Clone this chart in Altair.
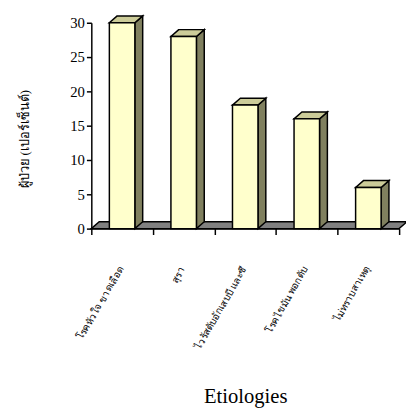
import altair as alt
import pandas as pd

# ---- data ----
categories = [
    "โรคหัวใจ ขาดเลือด",
    "สุรา",
    "ไวรัสตับอักเสบบี และซี",
    "โรคไขมัน พอกตับ",
    "ไม่ทราบสาเหตุ",
]
values = [30, 28, 18, 16, 6]
y_ticks = [0, 5, 10, 15, 20, 25, 30]
y_title = "ผู้ป่วย (เปอร์เซ็นต์)"
x_title = "Etiologies"

# ---- layout / style ----
W, H = 314, 210
N = len(categories)
YMAX = 30
px_x = N / W          # data units per pixel (x)
px_y = YMAX / H       # data units per pixel (y)
DX = 8 * px_x         # 3-D depth
DY = 7 * px_y
HALF = 13 * px_x      # half width of bar front face
FONT = "Liberation Serif"
FRONT, SIDE, TOP, FLOOR = "#FFFFCC", "#80805F", "#CCCC99", "#808080"
SW = 1.5

xs = alt.Scale(domain=[0, N], nice=False, zero=False)
ys = alt.Scale(domain=[0, YMAX], nice=False)

yaxis = alt.Axis(values=y_ticks, title=y_title, grid=False,
                 labelOverlap=False,
                 domainColor="black", domainWidth=SW,
                 tickColor="black", tickWidth=SW, tickSize=5,
                 labelFont=FONT, labelFontSize=15, labelColor="black",
                 labelPadding=2,
                 titleFont=FONT, titleFontSize=13, titleFontWeight="normal",
                 titleColor="black", titleAngle=-90,
                 titleX=-68, titleY=118, titleAlign="center",
                 titleBaseline="middle")
xaxis = alt.Axis(values=list(range(N + 1)), labels=False, grid=False,
                 title=x_title, domainColor="black", domainWidth=SW,
                 tickColor="black", tickWidth=SW, tickSize=6,
                 titleFont=FONT, titleFontSize=21, titleFontWeight="normal",
                 titleColor="black", titleX=W / 2, titleY=177,
                 titleAlign="center", titleBaseline="alphabetic")


def X(f):
    return alt.X(f, scale=xs, axis=xaxis)


def Y(f):
    return alt.Y(f, scale=ys, axis=yaxis)


front = pd.DataFrame({
    "cat": categories,
    "x1": [i + 0.5 - HALF for i in range(N)],
    "x2": [i + 0.5 + HALF for i in range(N)],
    "v": values,
    "z": [0] * N,
})

side_rows, top_rows = [], []
for i, v in enumerate(values):
    xr = i + 0.5 + HALF
    xl = i + 0.5 - HALF
    side_rows.append({"bar": i, "x": xr, "y": v, "y2": 0})
    side_rows.append({"bar": i, "x": xr + DX, "y": v + DY, "y2": DY})
    top_rows.append({"bar": i, "y": v, "x": xl, "x2": xr})
    top_rows.append({"bar": i, "y": v + DY, "x": xl + DX, "x2": xr + DX})
side = pd.DataFrame(side_rows)
top = pd.DataFrame(top_rows)
floor = pd.DataFrame({"y": [0, DY], "x": [0, DX], "x2": [N, N + DX]})
labels = pd.DataFrame({"cat": categories, "xc": [i + 0.5 for i in range(N)]})

floor_l = alt.Chart(floor).mark_area(
    orient="horizontal", color=FLOOR, stroke="black", strokeWidth=SW, clip=False
).encode(y=Y("y:Q"), x=X("x:Q"), x2="x2:Q")

side_l = alt.Chart(side).mark_area(
    color=SIDE, stroke="black", strokeWidth=SW, clip=False
).encode(x=X("x:Q"), y=Y("y:Q"), y2="y2:Q", detail="bar:N")

top_l = alt.Chart(top).mark_area(
    orient="horizontal", color=TOP, stroke="black", strokeWidth=SW, clip=False
).encode(y=Y("y:Q"), x=X("x:Q"), x2="x2:Q", detail="bar:N")

front_l = alt.Chart(front).mark_rect(
    color=FRONT, stroke="black", strokeWidth=SW
).encode(x=X("x1:Q"), x2="x2:Q", y=Y("v:Q"), y2="z:Q")

label_l = alt.Chart(labels).mark_text(
    angle=300, align="right", baseline="middle", font=FONT, fontSize=10,
    color="black", dx=-2
).encode(x=X("xc:Q"), y=alt.value(H + 38), text="cat:N")

chart = alt.layer(floor_l, side_l, top_l, front_l, label_l).properties(
    width=W, height=H,
    background="white",
    autosize=alt.AutoSizeParams(type="none"),
    padding={"left": 85, "top": 11, "right": 7, "bottom": 182},
).configure_view(stroke=None)

chart.save("out.html", embed_options={"renderer": "svg", "actions": False})
